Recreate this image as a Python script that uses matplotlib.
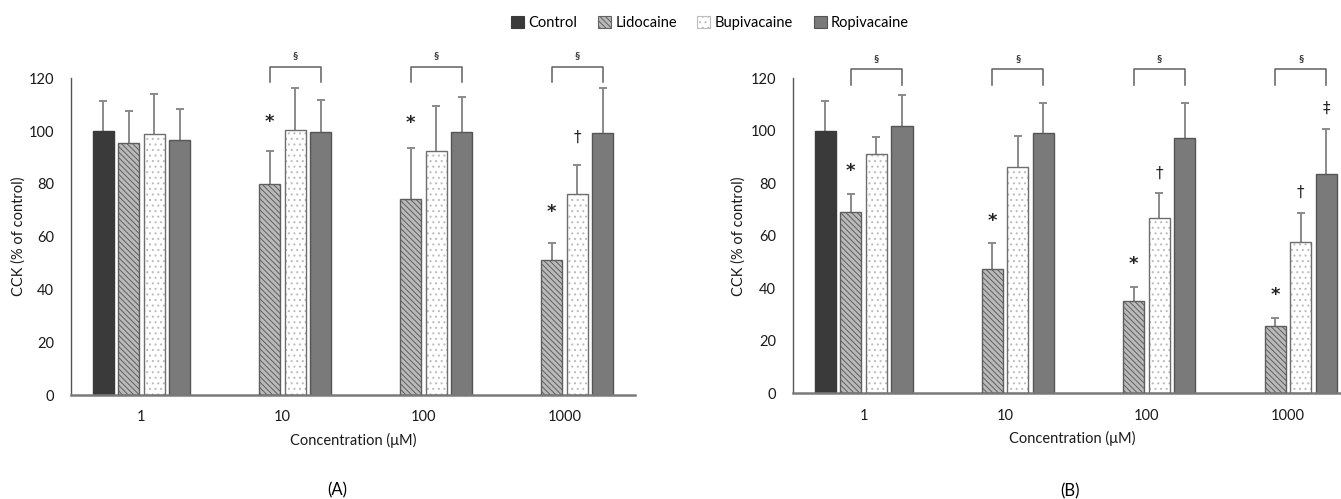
import numpy as np
import matplotlib
matplotlib.use('Agg')
import matplotlib.pyplot as plt
from matplotlib.patches import Patch

plt.rcParams['font.family'] = ['Lato', 'DejaVu Sans']
plt.rcParams['hatch.linewidth'] = 0.75

concentrations = ['1', '10', '100', '1000']
series = ['Control', 'Lidocaine', 'Bupivacaine', 'Ropivacaine']
nan = np.nan

# panel A, mean and upper SD
a_control = [100.0, nan, nan, nan]
a_control_err = [11.3, nan, nan, nan]
a_lido = [95.5, 80.1, 74.3, 51.2]
a_lido_err = [12.2, 12.3, 19.1, 6.4]
a_bupi = [98.9, 100.3, 92.5, 76.0]
a_bupi_err = [15.0, 16.2, 17.1, 11.2]
a_ropi = [96.6, 99.8, 99.5, 99.2]
a_ropi_err = [11.7, 11.8, 13.3, 17.0]

# panel B
b_control = [100.0, nan, nan, nan]
b_control_err = [11.5, nan, nan, nan]
b_lido = [69.1, 47.3, 35.3, 25.6]
b_lido_err = [6.9, 10.1, 5.3, 3.1]
b_bupi = [91.0, 86.3, 66.7, 57.8]
b_bupi_err = [6.8, 11.9, 9.6, 10.7]
b_ropi = [101.7, 99.1, 97.4, 83.4]
b_ropi_err = [11.8, 11.5, 13.3, 17.2]

# significance marks: group index, series index, symbol, y
a_sig_group = [1, 2, 3, 3]
a_sig_series = [1, 1, 1, 2]
a_sig_mark = ['*', '*', '*', '†']
a_sig_y = [103.6, 103.2, 69.5, 97.6]

b_sig_group = [0, 1, 2, 2, 3, 3, 3]
b_sig_series = [1, 1, 1, 2, 1, 2, 3]
b_sig_mark = ['*', '*', '*', '†', '*', '†', '‡']
b_sig_y = [84.7, 65.8, 49.1, 83.8, 37.4, 76.6, 108.6]

a_bracket_groups = [1, 2, 3]
b_bracket_groups = [0, 1, 2, 3]

fills = ['#3a3a3a', '#bababa', '#ffffff', '#7a7a7a']
hatches = [None, '\\\\\\\\\\\\', '...', None]
hatch_cols = [None, '#636363', '#bcbcbc', None]
edges = ['#3a3a3a', '#5e5e5e', '#6e6e6e', '#555555']

pitch = 0.181
width = 0.149
offsets = (np.arange(4) - 1.5) * pitch


def draw_panel(ax, vals, errs, sig_group, sig_series, sig_mark, sig_y,
               bracket_groups, br_low, br_high, sec_y):
    x = np.arange(len(concentrations))
    for k in range(4):
        xs = x + offsets[k]
        v = np.array(vals[k], dtype=float)
        e = np.array(errs[k], dtype=float)
        if hatches[k]:
            ax.bar(xs, v, width, color=fills[k], edgecolor=hatch_cols[k],
                   hatch=hatches[k], linewidth=0, zorder=2)
            ax.bar(xs, v, width, color='none', edgecolor=edges[k],
                   linewidth=1.0, zorder=3)
        else:
            ax.bar(xs, v, width, color=fills[k], edgecolor=edges[k],
                   linewidth=1.0, zorder=2)
        eb = ax.errorbar(xs, v, yerr=[np.zeros_like(e), e], fmt='none',
                         ecolor='#8a8a8a', elinewidth=1.4, capsize=3.2,
                         capthick=1.4, zorder=1)
        eb[1][0].set_visible(False)

    for g, s, m, y in zip(sig_group, sig_series, sig_mark, sig_y):
        fs = 13 if m == '*' else 11
        ax.text(x[g] + offsets[s], y, m, ha='center', va='center',
                fontsize=fs, color='#222222', fontweight='bold' if m == '*' else 'normal',
                family=['DejaVu Sans'])

    for g in bracket_groups:
        x0 = x[g] + offsets[1]
        x1 = x[g] + offsets[3]
        ax.plot([x0, x0, x1, x1], [br_low, br_high, br_high, br_low],
                color='#606060', lw=1.1, clip_on=False, zorder=4)
        ax.text((x0 + x1) / 2, sec_y, '§', ha='center', va='center',
                fontsize=7.5, color='#333333', fontweight='bold')

    ax.set_xlim(-0.5, 3.5)
    ax.set_ylim(0, 120)
    ax.set_yticks(range(0, 121, 20))
    ax.set_xticks(x)
    ax.set_xticklabels(concentrations)
    ax.tick_params(axis='both', length=0, labelsize=10.5, colors='#1a1a1a')
    ax.tick_params(axis='y', pad=12)
    ax.tick_params(axis='x', pad=11)
    for sp in ['top', 'right']:
        ax.spines[sp].set_visible(False)
    ax.spines['left'].set_color('#555555')
    ax.spines['left'].set_linewidth(1.0)
    ax.spines['bottom'].set_color('#7a7a7a')
    ax.spines['bottom'].set_linewidth(1.8)
    ax.set_ylabel('CCK (% of control)', fontsize=10.5, color='#1a1a1a')
    ax.set_xlabel('Concentration (μM)', fontsize=10.5, color='#1a1a1a')


fig = plt.figure(figsize=(13.41, 4.99), dpi=100)
ax1 = fig.add_axes([0.0529, 0.2084, 0.4206, 0.6347])
ax2 = fig.add_axes([0.5913, 0.2118, 0.4218, 0.6313])

draw_panel(ax1, [a_control, a_lido, a_bupi, a_ropi],
           [a_control_err, a_lido_err, a_bupi_err, a_ropi_err],
           a_sig_group, a_sig_series, a_sig_mark, a_sig_y,
           a_bracket_groups, 118.5, 124.4, 128.8)
draw_panel(ax2, [b_control, b_lido, b_bupi, b_ropi],
           [b_control_err, b_lido_err, b_bupi_err, b_ropi_err],
           b_sig_group, b_sig_series, b_sig_mark, b_sig_y,
           b_bracket_groups, 117.5, 123.6, 127.4)

ax1.yaxis.set_label_coords(-0.08, 0.5)
ax2.yaxis.set_label_coords(-0.083, 0.5)
ax1.xaxis.set_label_coords(0.5, -0.12)
ax2.xaxis.set_label_coords(0.493, -0.12)

handles = []
for k in range(4):
    handles.append(Patch(facecolor=fills[k],
                         edgecolor=hatch_cols[k] if hatches[k] else edges[k],
                         hatch=hatches[k], linewidth=0.8))
fig.legend(handles, series, loc='center', bbox_to_anchor=(710 / 1341, 1 - 23 / 499),
           ncol=4, frameon=False, fontsize=10.5, handlelength=0.9,
           handleheight=0.9, handletextpad=0.3, columnspacing=1.4)

fig.text(337.6 / 1341, 1 - 490 / 499, '(A)', ha='center', va='center', fontsize=12)
fig.text(1069.6 / 1341, 1 - 491 / 499, '(B)', ha='center', va='center', fontsize=12)

fig.savefig('out.png', dpi=100)
